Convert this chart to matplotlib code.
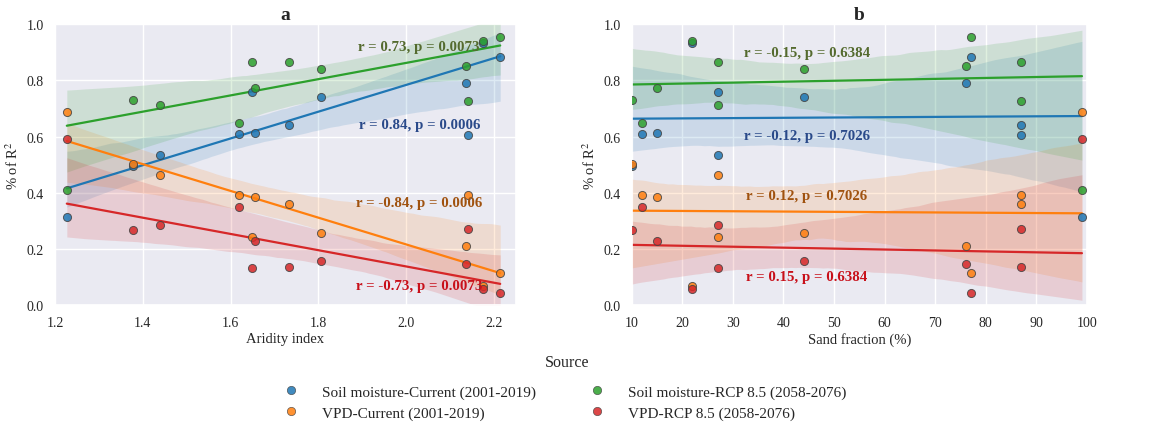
import matplotlib
matplotlib.use("Agg")
import matplotlib.pyplot as plt
from matplotlib.lines import Line2D
import numpy as np
import seaborn as sns

# Per-site predictors
aridity_index = [1.227, 1.377, 1.439, 1.619, 1.648, 1.656, 1.733, 1.806, 2.137, 2.141, 2.174, 2.214]
sand_fraction = [99, 10, 27, 12, 27, 15, 87, 44, 76, 87, 22, 77]

# Share of explained variance (R^2) by driver and period
sm_current = [0.312, 0.497, 0.536, 0.608, 0.757, 0.614, 0.641, 0.742, 0.791, 0.607, 0.933, 0.884]
vpd_current = [0.688, 0.503, 0.464, 0.392, 0.243, 0.386, 0.359, 0.258, 0.209, 0.393, 0.067, 0.116]
sm_rcp85 = [0.409, 0.731, 0.714, 0.649, 0.867, 0.772, 0.865, 0.842, 0.852, 0.728, 0.941, 0.955]
vpd_rcp85 = [0.591, 0.269, 0.286, 0.351, 0.133, 0.228, 0.135, 0.158, 0.148, 0.272, 0.059, 0.045]

sources = ["Soil moisture-Current (2001-2019)", "VPD-Current (2001-2019)",
           "Soil moisture-RCP 8.5 (2058-2076)", "VPD-RCP 8.5 (2058-2076)"]
colors = ["#1f77b4", "#ff7f0e", "#2ca02c", "#d62728"]
text_colors = ["#2a4a8a", "#a0520f", "#556b2f", "#c8101a"]

# Correlation statistics per panel (order follows `sources`)
stats_aridity = ["r = 0.84, p = 0.0006", "r = -0.84, p = 0.0006",
                 "r = 0.73, p = 0.0073", "r = -0.73, p = 0.0073"]
stats_sand = ["r = -0.12, p = 0.7026", "r = 0.12, p = 0.7026",
              "r = -0.15, p = 0.6384", "r = 0.15, p = 0.6384"]

series = [sm_current, vpd_current, sm_rcp85, vpd_rcp85]


def huber_fit(x, y, t=1.345, maxiter=50, tol=1e-8):
    """Robust linear fit (Huber M-estimator, MAD scale, IRLS)."""
    X = np.column_stack([np.ones_like(x), x])
    beta = np.linalg.lstsq(X, y, rcond=None)[0]
    resid = y - X @ beta
    scale = np.median(np.abs(resid)) / 0.6745
    for _ in range(maxiter):
        if scale <= 1e-12:
            break
        u = np.abs(resid / scale)
        w = np.where(u <= t, 1.0, t / np.maximum(u, 1e-12))
        sw = np.sqrt(w)
        new = np.linalg.lstsq(X * sw[:, None], y * sw, rcond=None)[0]
        done = np.max(np.abs(new - beta)) < tol
        beta = new
        resid = y - X @ beta
        scale = np.median(np.abs(resid)) / 0.6745
        if done:
            break
    return beta


def robust_regplot(ax, x, y, color, seed, n_boot=1000):
    x = np.asarray(x, float)
    y = np.asarray(y, float)
    grid = np.linspace(x.min(), x.max(), 100)
    b = huber_fit(x, y)
    yhat = b[0] + b[1] * grid
    rng = np.random.default_rng(seed)
    n = len(x)
    boots = np.empty((n_boot, grid.size))
    for i in range(n_boot):
        idx = rng.integers(0, n, n)
        if np.ptp(x[idx]) == 0:
            boots[i] = np.nan
            continue
        bb = huber_fit(x[idx], y[idx])
        boots[i] = bb[0] + bb[1] * grid
    lo, hi = np.nanpercentile(boots, [2.5, 97.5], axis=0)
    ax.fill_between(grid, lo, hi, color=color, alpha=0.15, linewidth=0)
    ax.plot(grid, yhat, color=color, lw=1.6)


sns.set_theme(style="darkgrid")
plt.rcParams["font.family"] = ["Liberation Serif", "DejaVu Serif"]
plt.rcParams["mathtext.fontset"] = "stix"

fig = plt.figure(figsize=(11.57, 4.27), dpi=100)
ax_a = fig.add_axes([0.0475, 0.283, 0.3985, 0.658])
ax_b = fig.add_axes([0.546, 0.283, 0.3935, 0.658])

panels = [
    (ax_a, aridity_index, "Aridity index", "a", stats_aridity,
     [0.644, 0.367, 0.92, 0.071], 0.79, (1.2, 2.25), [1.2, 1.4, 1.6, 1.8, 2.0, 2.2]),
    (ax_b, sand_fraction, "Sand fraction (%)", "b", stats_sand,
     [0.605, 0.389, 0.90, 0.102], 0.385, (10, 100), list(range(10, 101, 10))),
]

for p, (ax, xvals, xlabel, title, stats, ty, tx, xlim, xticks) in enumerate(panels):
    for k, (vals, col) in enumerate(zip(series, colors)):
        robust_regplot(ax, xvals, vals, col, seed=11 + 10 * p + k)
    for k, (vals, col) in enumerate(zip(series, colors)):
        ax.scatter(xvals, vals, s=34, color=col, alpha=0.85,
                   edgecolor="#444444", linewidth=0.7, zorder=5)
    for k in range(4):
        ax.text(tx, ty[k], stats[k], transform=ax.transAxes, ha="center",
                va="center", fontsize=10.7, fontweight="bold",
                color=text_colors[k], zorder=6)
    ax.set_xlim(*xlim)
    ax.set_ylim(0, 1)
    ax.set_xticks(xticks)
    ax.set_yticks([0.0, 0.2, 0.4, 0.6, 0.8, 1.0])
    ax.tick_params(labelsize=10, pad=2)
    ax.set_xlabel(xlabel, fontsize=10.5, labelpad=2)
    ax.set_ylabel(r"% of R$^2$", fontsize=10.5, labelpad=4)
    ax.set_title(title, fontsize=14, fontweight="bold", pad=4)

# Legend with its title set slightly apart from the entries
fig.text(0.49, 0.150, "Source", ha="center", va="center", fontsize=11.5)
handles = [Line2D([], [], marker="o", linestyle="", markersize=6,
                  markerfacecolor=c, markeredgecolor="#444444",
                  markeredgewidth=0.5, alpha=0.85) for c in colors]
fig.legend(handles, sources, loc="upper center", bbox_to_anchor=(0.485, 0.128),
           ncol=2, frameon=False, fontsize=11, columnspacing=3.0,
           handletextpad=1.0, labelspacing=0.45)

fig.savefig("out.png", dpi=100, facecolor="white")
